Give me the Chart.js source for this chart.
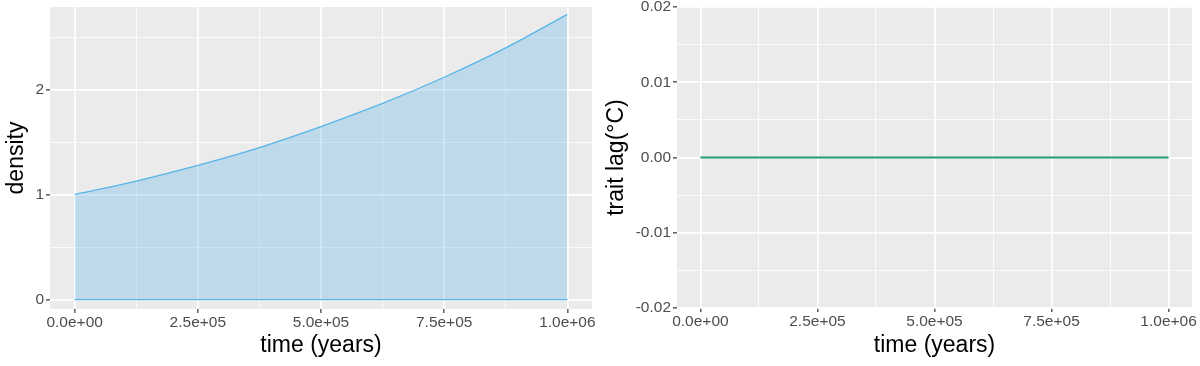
<!DOCTYPE html>
<html>
<head>
<meta charset="utf-8">
<script src="https://cdn.jsdelivr.net/npm/chart.js@4/dist/chart.umd.min.js"></script>
<style>
  html, body { margin: 0; padding: 0; background: #ffffff; }
  #wrap { position: relative; width: 1200px; height: 366px; }
  .panel { position: absolute; top: 0; width: 600px; height: 366px; }
  #p1 { left: 0; }
  #p2 { left: 600px; }
</style>
</head>
<body>
<div id="wrap">
  <div class="panel" id="p1"><canvas id="c1" width="600" height="366"></canvas></div>
  <div class="panel" id="p2"><canvas id="c2" width="600" height="366"></canvas></div>
</div>
<script>
// ---- data ----
const timePoints = [0, 125000, 250000, 375000, 500000, 625000, 750000, 875000, 1000000];
const densityValues = [1.00, 1.13, 1.28, 1.45, 1.65, 1.87, 2.12, 2.40, 2.72];
const densityLower = [0, 0, 0, 0, 0, 0, 0, 0, 0];
const traitLagValues = [0, 0, 0, 0, 0, 0, 0, 0, 0];

const xMajorTicks = [0, 250000, 500000, 750000, 1000000];
const xMinorTicks = [125000, 375000, 625000, 875000];
const xTickLabels = ['0.0e+00', '2.5e+05', '5.0e+05', '7.5e+05', '1.0e+06'];

const densityMajorTicks = [0, 1, 2];
const densityMinorTicks = [0.5, 1.5, 2.5];
const densityTickLabels = ['0', '1', '2'];

const lagMajorTicks = [-0.02, -0.01, 0, 0.01, 0.02];
const lagMinorTicks = [-0.015, -0.005, 0.005, 0.015];
const lagTickLabels = ['-0.02', '-0.01', '0.00', '0.01', '0.02'];

// ---- helpers ----
const FONT = '"Liberation Sans", Arial, Helvetica, sans-serif';
const near = (a, b) => Math.abs(a - b) < 1e-9 * Math.max(1, Math.abs(a), Math.abs(b));
const isIn = (arr, v) => arr.some(t => near(t, v));

const panelBg = {
  id: 'panelBg',
  beforeDraw(chart) {
    const a = chart.chartArea, c = chart.ctx;
    c.save();
    c.fillStyle = '#EBEBEB';
    c.fillRect(a.left, a.top, a.right - a.left, a.bottom - a.top);
    c.restore();
  }
};

function axis(opts) {
  const { majors, minors, labels, min, max, title, size, pos } = opts;
  const all = majors.concat(minors).sort((a, b) => a - b);
  return {
    type: 'linear',
    position: pos,
    min: min, max: max,
    afterBuildTicks: s => { s.ticks = all.map(v => ({ value: v })); },
    afterFit: s => {
      if (pos === 'left') { s.width = size; s.paddingTop = 0; s.paddingBottom = 0; }
      else { s.height = size; s.paddingLeft = 0; s.paddingRight = 0; }
    },
    border: { display: false },
    grid: {
      color: '#FFFFFF',
      lineWidth: ctx => (ctx.tick && isIn(majors, ctx.tick.value)) ? 1.7 : 0.8,
      tickColor: ctx => (ctx.tick && isIn(majors, ctx.tick.value)) ? '#333333' : 'rgba(0,0,0,0)',
      tickLength: 4,
      tickWidth: 1.2,
      drawTicks: true
    },
    ticks: {
      autoSkip: false,
      maxRotation: 0,
      minRotation: 0,
      color: '#4D4D4D',
      font: { family: FONT, size: 15.5 },
      padding: pos === 'left' ? 2 : 0,
      callback: function (v) {
        const i = majors.findIndex(t => near(t, v));
        return i >= 0 ? labels[i] : '';
      }
    },
    title: {
      display: true,
      text: title,
      color: '#000000',
      font: { family: FONT, size: 23 },
      padding: pos === 'left' ? { top: 3, bottom: 0 } : { top: 0, bottom: 7 }
    }
  };
}

function pts(xs, ys) { return xs.map((x, i) => ({ x: x, y: ys[i] })); }

const layoutOpts = { padding: { top: 7, right: 8, left: 0, bottom: 0 } };

// ---- left: density ----
new Chart(document.getElementById('c1'), {
  type: 'line',
  data: {
    datasets: [
      {
        data: pts(timePoints, densityLower),
        borderColor: '#56B4E9',
        borderWidth: 1.3,
        pointRadius: 0,
        fill: false
      },
      {
        data: pts(timePoints, densityValues),
        borderColor: '#56B4E9',
        borderWidth: 1.3,
        backgroundColor: 'rgba(86,180,233,0.3)',
        pointRadius: 0,
        cubicInterpolationMode: 'monotone',
        fill: '-1'
      }
    ]
  },
  options: {
    responsive: false,
    animation: false,
    layout: layoutOpts,
    plugins: { legend: { display: false }, tooltip: { enabled: false } },
    scales: {
      x: axis({ majors: xMajorTicks, minors: xMinorTicks, labels: xTickLabels, min: -50000, max: 1050000, title: 'time (years)', size: 57, pos: 'bottom' }),
      y: axis({ majors: densityMajorTicks, minors: densityMinorTicks, labels: densityTickLabels, min: -0.09, max: 2.79, title: 'density', size: 50, pos: 'left' })
    }
  },
  plugins: [panelBg]
});

// ---- right: trait lag ----
new Chart(document.getElementById('c2'), {
  type: 'line',
  data: {
    datasets: [
      {
        data: pts(timePoints, traitLagValues),
        borderColor: '#1B9E77',
        borderWidth: 2,
        pointRadius: 0,
        fill: false
      }
    ]
  },
  options: {
    responsive: false,
    animation: false,
    layout: layoutOpts,
    plugins: { legend: { display: false }, tooltip: { enabled: false } },
    scales: {
      x: axis({ majors: xMajorTicks, minors: xMinorTicks, labels: xTickLabels, min: -50000, max: 1050000, title: 'time (years)', size: 58, pos: 'bottom' }),
      y: axis({ majors: lagMajorTicks, minors: lagMinorTicks, labels: lagTickLabels, min: -0.02, max: 0.02, title: 'trait lag(°C)', size: 77, pos: 'left' })
    }
  },
  plugins: [panelBg]
});
</script>
</body>
</html>
